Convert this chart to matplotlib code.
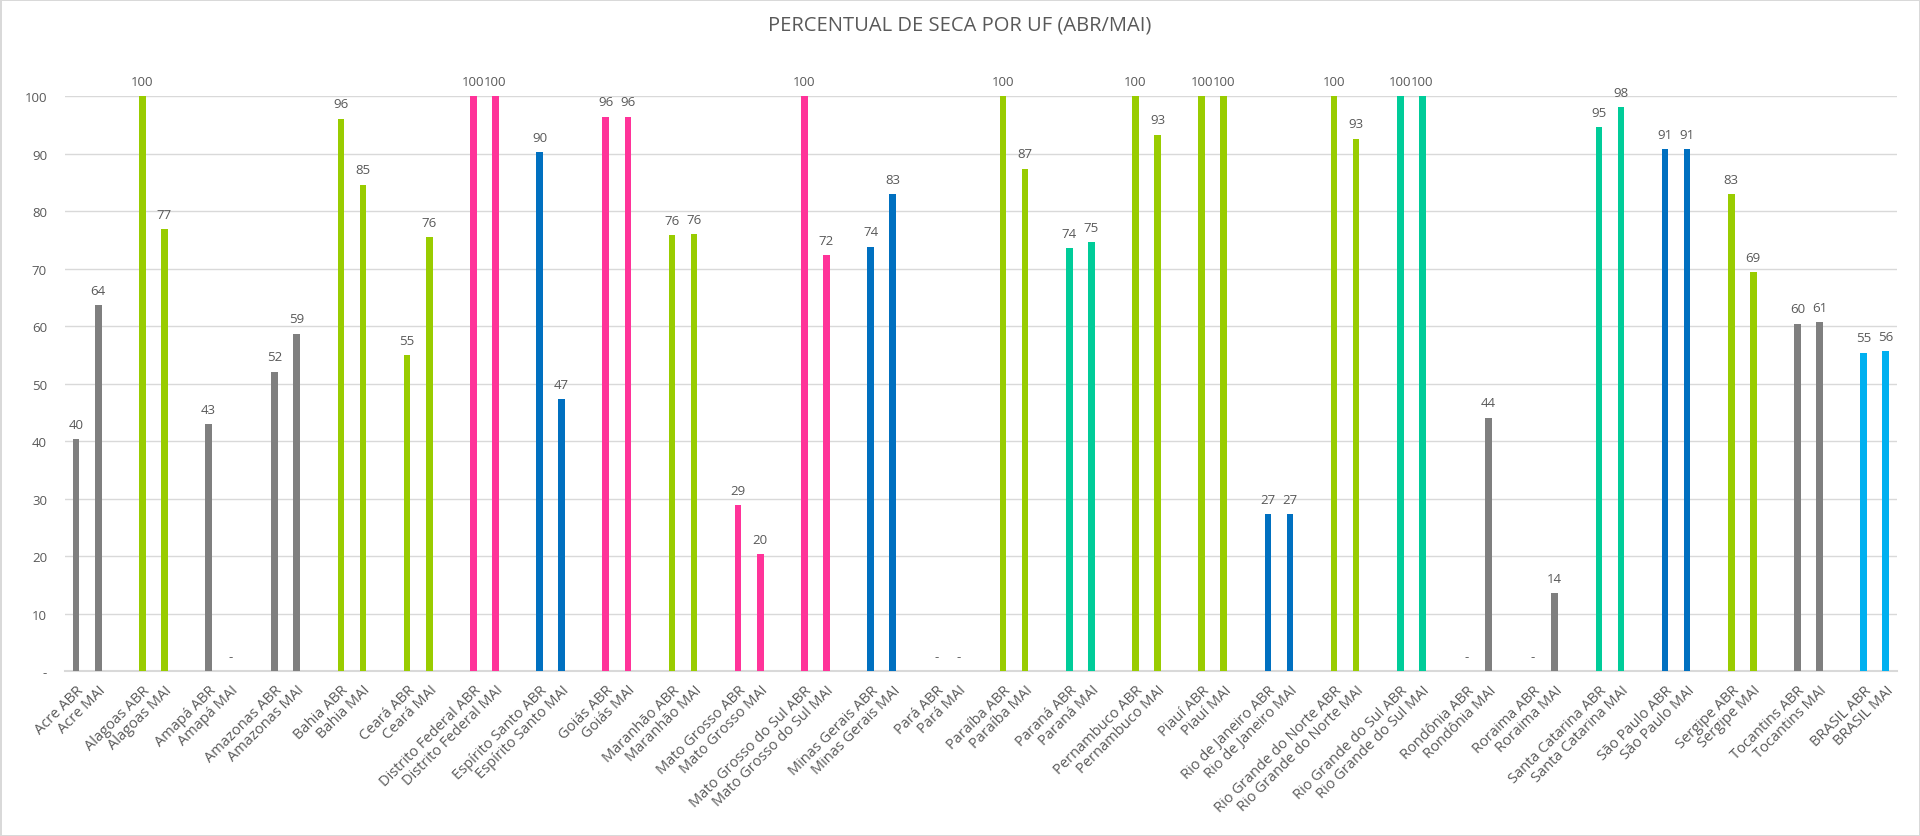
import matplotlib
matplotlib.use("Agg")
import matplotlib.pyplot as plt

ufs = ["Acre", "Alagoas", "Amapá", "Amazonas", "Bahia", "Ceará", "Distrito Federal",
       "Espírito Santo", "Goiás", "Maranhão", "Mato Grosso", "Mato Grosso do Sul",
       "Minas Gerais", "Pará", "Paraíba", "Paraná", "Pernambuco", "Piauí",
       "Rio de Janeiro", "Rio Grande do Norte", "Rio Grande do Sul", "Rondônia",
       "Roraima", "Santa Catarina", "São Paulo", "Sergipe", "Tocantins", "BRASIL"]
abr = [40.3, 100, 43.0, 52.1, 96.1, 54.9, 100, 90.3, 96.4, 75.8, 28.9, 100, 73.8, 0,
       100, 73.6, 100, 100, 27.3, 100, 100, 0, 0, 94.6, 90.8, 83.0, 60.4, 55.4]
mai = [63.6, 76.9, 0, 58.7, 84.6, 75.5, 100, 47.3, 96.4, 76.0, 20.3, 72.3, 83.0, 0,
       87.4, 74.6, 93.3, 100, 27.3, 92.6, 100, 44.1, 13.6, 98.1, 90.8, 69.4, 60.7, 55.6]
regiao = ["N", "NE", "N", "N", "NE", "NE", "CO", "SE", "CO", "NE", "CO", "CO", "SE", "N",
          "NE", "S", "NE", "NE", "SE", "NE", "S", "N", "N", "S", "SE", "NE", "N", "BR"]
cores = {"N": "#7F7F7F", "NE": "#99CC00", "CO": "#FF3399", "SE": "#0070C0",
         "S": "#00CC99", "BR": "#00B0F0"}
title = "PERCENTUAL DE SECA POR UF (ABR/MAI)"

plt.rcParams['font.family'] = ['Open Sans', 'DejaVu Sans']
txt = "#595959"

fig = plt.figure(figsize=(19.2, 8.37), dpi=100)
fig.patch.set_edgecolor("#D9D9D9")
fig.patch.set_linewidth(2)
ax = fig.add_axes([0.0339, 0.197, 0.954, 0.687])

positions, labels, values, colors = [], [], [], []
for i, uf in enumerate(ufs):
    c = cores[regiao[i]]
    for j, (suf, v) in enumerate((("ABR", abr[i]), ("MAI", mai[i]))):
        positions.append(3 * i + j)
        labels.append(f"{uf} {suf}")
        values.append(v)
        colors.append(c)

bars = ax.bar(positions, values, width=0.3, color=colors, zorder=3)
for x, v in zip(positions, values):
    lab = "-" if v == 0 else f"{v:.0f}"
    ax.annotate(lab, (x, v), xytext=(0, 6), textcoords="offset points",
                ha="center", va="bottom", fontsize=9.5, color=txt, annotation_clip=False)

ax.set_xlim(-0.5, 3 * len(ufs) - 1.5)
ax.set_ylim(0, 100)
ax.set_yticks(range(0, 101, 10))
ax.set_yticklabels(["-"] + [str(t) for t in range(10, 101, 10)])
ax.set_xticks(positions)
ax.set_xticklabels(labels, rotation=45, ha="right", rotation_mode="anchor")
ax.tick_params(axis="both", length=0, labelcolor=txt)
ax.tick_params(axis="x", pad=8, labelsize=10.5)
ax.tick_params(axis="y", pad=13, labelsize=9.5)
ax.grid(axis="y", color="#D9D9D9", linewidth=1, zorder=0)
for s in ["top", "right", "left"]:
    ax.spines[s].set_visible(False)
ax.spines["bottom"].set_color("#D9D9D9")
ax.spines["bottom"].set_linewidth(1.5)

fig.text(0.5, 0.969, title, ha="center", va="center", fontsize=14.5, color=txt)

fig.savefig("out.png", dpi=100)
